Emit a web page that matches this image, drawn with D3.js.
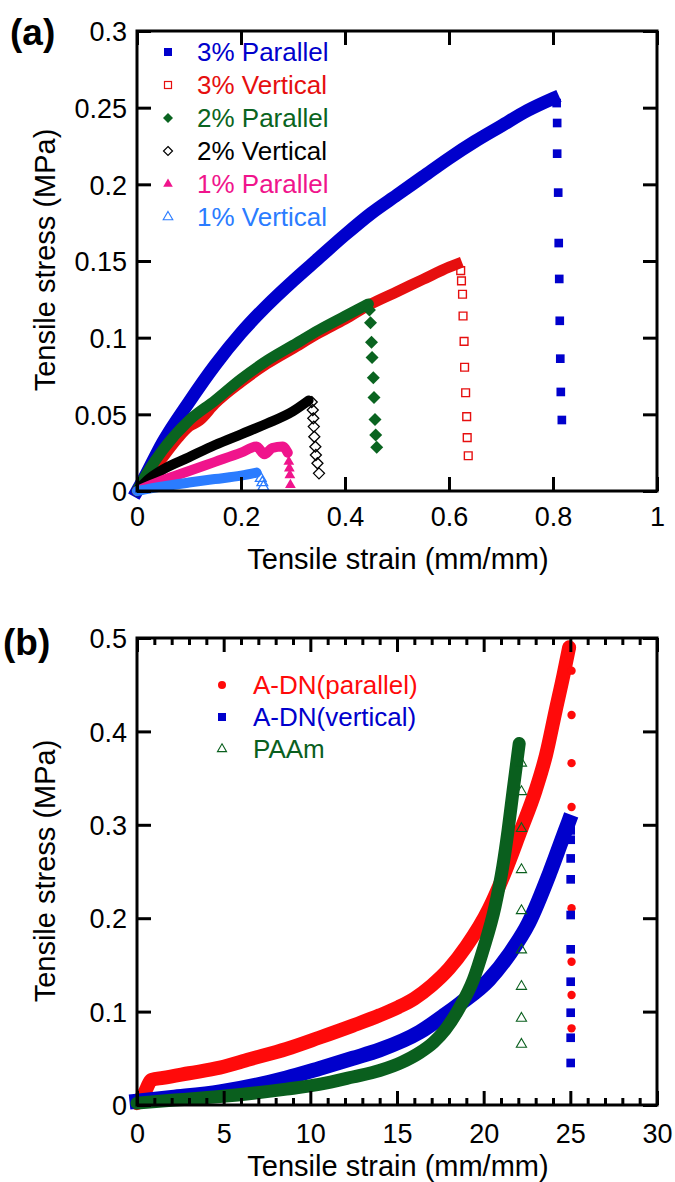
<!DOCTYPE html>
<html>
<head>
<meta charset="utf-8">
<script src="https://cdn.jsdelivr.net/npm/d3@7"></script>
<style>
  html, body { margin: 0; padding: 0; background: #fff; }
  svg { display: block; }
  text { font-family: "Liberation Sans", Arial, Helvetica, sans-serif; }
</style>
</head>
<body>
<svg id="chart" width="675" height="1182"></svg>
<script>
// ---------------- Panel (a) data ----------------
const aXTicks = [0, 0.2, 0.4, 0.6, 0.8, 1];
const aXTickLabels = ["0", "0.2", "0.4", "0.6", "0.8", "1"];
const aYTicks = [0, 0.05, 0.1, 0.15, 0.2, 0.25, 0.3];
const aYTickLabels = ["0", "0.05", "0.1", "0.15", "0.2", "0.25", "0.3"];

const aSeriesNames = ["3% Parallel", "3% Vertical", "2% Parallel", "2% Vertical", "1% Parallel", "1% Vertical"];

// 3% Parallel
const p3Strain = [0, 0.01, 0.05, 0.1, 0.15, 0.2, 0.25, 0.3, 0.35, 0.4, 0.45, 0.5, 0.55, 0.6, 0.65, 0.7, 0.75, 0.8];
const p3Stress = [0, 0.006, 0.032, 0.058, 0.082, 0.103, 0.121, 0.137, 0.152, 0.167, 0.181, 0.193, 0.205, 0.217, 0.228, 0.238, 0.248, 0.256];
const p3DropStrain = [0.807, 0.808, 0.808, 0.810, 0.811, 0.812, 0.813, 0.814, 0.815, 0.817];
const p3DropStress = [0.253, 0.240, 0.220, 0.1946, 0.1617, 0.1383, 0.111, 0.0863, 0.0646, 0.0463];

// 3% Vertical
const v3Strain = [0, 0.02, 0.05, 0.08, 0.1, 0.12, 0.15, 0.2, 0.25, 0.3, 0.35, 0.4, 0.45, 0.5, 0.55, 0.6, 0.615];
const v3Stress = [0, 0.009, 0.022, 0.035, 0.042, 0.046, 0.057, 0.071, 0.083, 0.093, 0.103, 0.112, 0.122, 0.130, 0.138, 0.146, 0.148];
const v3DropStrain = [0.6225, 0.624, 0.626, 0.627, 0.629, 0.630, 0.632, 0.634, 0.635, 0.637];
const v3DropStress = [0.1437, 0.137, 0.1283, 0.1141, 0.0976, 0.0807, 0.0641, 0.0485, 0.0348, 0.023];

// 2% Parallel
const p2Strain = [0, 0.02, 0.05, 0.1, 0.15, 0.2, 0.25, 0.3, 0.35, 0.4, 0.445];
const p2Stress = [0, 0.012, 0.027, 0.046, 0.059, 0.073, 0.085, 0.095, 0.105, 0.114, 0.122];
const p2DropStrain = [0.447, 0.449, 0.451, 0.452, 0.4545, 0.4558, 0.4577, 0.459, 0.461];
const p2DropStress = [0.118, 0.1098, 0.097, 0.087, 0.0739, 0.0609, 0.0467, 0.0365, 0.0285];

// 2% Vertical
const v2Strain = [0, 0.02, 0.05, 0.1, 0.15, 0.2, 0.25, 0.3, 0.33];
const v2Stress = [0, 0.007, 0.014, 0.022, 0.030, 0.037, 0.044, 0.052, 0.059];
const v2DropStrain = [0.336, 0.338, 0.339, 0.340, 0.341, 0.343, 0.344, 0.347, 0.350];
const v2DropStress = [0.058, 0.0528, 0.0474, 0.042, 0.0354, 0.0289, 0.0235, 0.0181, 0.0115];

// 1% Parallel
const p1Strain = [0, 0.05, 0.1, 0.15, 0.2, 0.23, 0.245, 0.26, 0.28, 0.29];
const p1Stress = [0, 0.007, 0.013, 0.019, 0.025, 0.029, 0.024, 0.028, 0.029, 0.025];
const p1DropStrain = [0.292, 0.293, 0.294, 0.295];
const p1DropStress = [0.0191, 0.0148, 0.0104, 0.0039];

// 1% Vertical
const v1Strain = [0, 0.05, 0.1, 0.15, 0.2, 0.23];
const v1Stress = [0, 0.003, 0.0055, 0.0078, 0.010, 0.012];
const v1DropStrain = [0.238, 0.241, 0.243];
const v1DropStress = [0.0083, 0.0055, 0.0028];

// ---------------- Panel (b) data ----------------
const bXTicks = [0, 5, 10, 15, 20, 25, 30];
const bXTickLabels = ["0", "5", "10", "15", "20", "25", "30"];
const bXMinorTicks = d3.range(0, 31).filter(v => v % 5 !== 0);
const bYTicks = [0, 0.1, 0.2, 0.3, 0.4, 0.5];
const bYTickLabels = ["0", "0.1", "0.2", "0.3", "0.4", "0.5"];
const bSeriesNames = ["A-DN(parallel)", "A-DN(vertical)", "PAAm"];

const adnParStrain = [0, 0.4, 0.85, 1.5, 3, 4.78, 6.5, 8.62, 10.5, 12.45, 14.0, 15.1, 16.0, 17.0, 18.0, 19.0, 20.3, 21.2, 22.1, 23.0, 23.6, 24.16, 24.6, 24.93];
const adnParStress = [0.002, 0.012, 0.027, 0.029, 0.034, 0.040, 0.049, 0.060, 0.072, 0.085, 0.096, 0.105, 0.114, 0.128, 0.146, 0.170, 0.210, 0.248, 0.292, 0.337, 0.375, 0.423, 0.460, 0.490];
const adnParDropStrain = [25.07, 25.07, 25.07, 25.07, 25.07, 25.07, 25.07, 25.07, 25.07];
const adnParDropStress = [0.489, 0.465, 0.4175, 0.366, 0.319, 0.2106, 0.1534, 0.1178, 0.0821];

const adnVerStrain = [0, 2, 4.78, 8.62, 10.5, 12.45, 14, 16.3, 17.8, 18.6, 20.3, 21.5, 22.6, 23.8, 24.5, 24.9];
const adnVerStress = [0.004, 0.008, 0.014, 0.029, 0.039, 0.050, 0.059, 0.078, 0.097, 0.108, 0.134, 0.162, 0.195, 0.248, 0.283, 0.303];
const adnVerDropStrain = [25.02, 25.02, 25.02, 25.02, 25.02, 25.02, 25.02, 25.02, 25.02, 25.02];
const adnVerDropStress = [0.294, 0.284, 0.264, 0.2416, 0.2034, 0.1667, 0.132, 0.0988, 0.072, 0.045];

const paamStrain = [0, 2, 4.78, 8.62, 10.5, 12.45, 14, 15.3, 16.3, 17.1, 17.8, 18.6, 19.4, 20.0, 20.65, 21.1, 21.4, 21.7, 22.05];
const paamStress = [0.002, 0.005, 0.009, 0.017, 0.022, 0.030, 0.037, 0.046, 0.056, 0.067, 0.081, 0.104, 0.134, 0.168, 0.212, 0.255, 0.293, 0.337, 0.387];
const paamDropStrain = [22.18, 22.18, 22.18, 22.18, 22.18, 22.18, 22.18, 22.18, 22.18];
const paamDropStress = [0.366, 0.3355, 0.296, 0.252, 0.208, 0.166, 0.127, 0.0928, 0.065];

// ---------------- Styles ----------------
const FONT = '"Liberation Sans", Arial, Helvetica, sans-serif';
const colA = { blue: "#0000cc", red: "#e60f0f", green: "#0a6420", black: "#000000", pink: "#f0148c", lblue: "#2b7cff" };
const colB = { red: "#ff0a0a", blue: "#0000cc", green: "#0a5f1e" };

const svg = d3.select("#chart");

function zipPts(xs, ys) { return xs.map((x, i) => [x, ys[i]]); }

function styleAxis(a, fontSize) {
  a.select(".domain").remove();
  a.selectAll(".tick line").attr("stroke", "#000").attr("stroke-width", 3).attr("stroke-linecap", "butt");
  a.selectAll(".tick text").attr("font-family", FONT).attr("font-size", fontSize).attr("fill", "#000");
}

function drawFrameAxes(g, x, y, opts) {
  const [x0, x1] = x.range();
  const [y0, y1] = y.range(); // y0 bottom, y1 top
  const axesG = g.append("g").attr("class", "axes");
  const gs = [];
  const M = 14, m = 7;
  const bottom = d3.axisBottom(x).tickValues(opts.xTicks).tickSizeInner(-M).tickSizeOuter(0)
    .tickPadding(opts.xPad).tickFormat((d, i) => opts.xLabels[i]);
  gs.push(axesG.append("g").attr("transform", `translate(0,${y0})`).call(bottom));
  const top = d3.axisTop(x).tickValues(opts.xTicks).tickSizeInner(-M).tickSizeOuter(0).tickFormat("");
  gs.push(axesG.append("g").attr("transform", `translate(0,${y1})`).call(top));
  const left = d3.axisLeft(y).tickValues(opts.yTicks).tickSizeInner(-M).tickSizeOuter(0)
    .tickPadding(opts.yPad).tickFormat((d, i) => opts.yLabels[i]);
  const gl = axesG.append("g").attr("transform", `translate(${x0},0)`).call(left);
  gs.push(gl);
  const right = d3.axisRight(y).tickValues(opts.yTicks).tickSizeInner(-M).tickSizeOuter(0).tickFormat("");
  gs.push(axesG.append("g").attr("transform", `translate(${x1},0)`).call(right));
  if (opts.xMinor) {
    const bm = d3.axisBottom(x).tickValues(opts.xMinor).tickSizeInner(-m).tickSizeOuter(0).tickFormat("");
    gs.push(axesG.append("g").attr("transform", `translate(0,${y0})`).call(bm));
    const tm = d3.axisTop(x).tickValues(opts.xMinor).tickSizeInner(-m).tickSizeOuter(0).tickFormat("");
    gs.push(axesG.append("g").attr("transform", `translate(0,${y1})`).call(tm));
  }
  gs.forEach(a => styleAxis(a, 27));
  gl.selectAll(".tick text").attr("dy", "0.36em");
  axesG.append("rect").attr("x", x0).attr("y", y1).attr("width", x1 - x0).attr("height", y0 - y1)
    .attr("fill", "none").attr("stroke", "#000").attr("stroke-width", 3);
}

function band(g, x, y, xs, ys, color, width, cap) {
  const line = d3.line().x(d => x(d[0])).y(d => y(d[1])).curve(d3.curveMonotoneX);
  g.append("path").attr("d", line(zipPts(xs, ys))).attr("fill", "none")
    .attr("stroke", color).attr("stroke-width", width)
    .attr("stroke-linejoin", "round").attr("stroke-linecap", cap || "round");
}

function markers(g, x, y, xs, ys, type, color, size, filled, sw) {
  const sym = d3.symbol().type(type).size(size);
  g.selectAll(null).data(zipPts(xs, ys)).join("path")
    .attr("transform", d => `translate(${x(d[0])},${y(d[1])})`)
    .attr("d", sym)
    .attr("fill", filled ? color : "none")
    .attr("stroke", color)
    .attr("stroke-width", filled ? 0 : (sw || 1.3));
}
function diamondPath(r) { return `M0,${-r}L${r},0L0,${r}L${-r},0Z`; }
function diamonds(g, x, y, xs, ys, color, r, filled) {
  g.selectAll(null).data(zipPts(xs, ys)).join("path")
    .attr("transform", d => `translate(${x(d[0])},${y(d[1])})`)
    .attr("d", diamondPath(r))
    .attr("fill", filled ? color : "none").attr("stroke", color).attr("stroke-width", filled ? 0 : 1.3);
}

// ================= Panel (a) =================
const xA = d3.scaleLinear().domain([0, 1]).range([137, 657]);
const yA = d3.scaleLinear().domain([0, 0.3]).range([491, 31]);
const gA = svg.append("g");

band(gA, xA, yA, v3Strain, v3Stress, colA.red, 11, "square");
band(gA, xA, yA, p3Strain, p3Stress, colA.blue, 13, "square");
band(gA, xA, yA, p2Strain, p2Stress, colA.green, 11, "round");
band(gA, xA, yA, v2Strain, v2Stress, colA.black, 10, "round");
band(gA, xA, yA, p1Strain, p1Stress, colA.pink, 10, "round");
band(gA, xA, yA, v1Strain, v1Stress, colA.lblue, 10, "round");

markers(gA, xA, yA, p3DropStrain, p3DropStress, d3.symbolSquare, colA.blue, 75, true);
markers(gA, xA, yA, v3DropStrain, v3DropStress, d3.symbolSquare, colA.red, 60, false, 1.4);
diamonds(gA, xA, yA, p2DropStrain, p2DropStress, colA.green, 6.5, true);
diamonds(gA, xA, yA, v2DropStrain, v2DropStress, colA.black, 5.5, false);
markers(gA, xA, yA, p1DropStrain, p1DropStress, d3.symbolTriangle, colA.pink, 50, true);
markers(gA, xA, yA, v1DropStrain, v1DropStress, d3.symbolTriangle, colA.lblue, 50, false, 1.3);

drawFrameAxes(gA, xA, yA, { xTicks: aXTicks, xLabels: aXTickLabels, yTicks: aYTicks, yLabels: aYTickLabels, xPad: 16, yPad: 10 });

// legend (a)
const legAColors = [colA.blue, colA.red, colA.green, colA.black, colA.pink, colA.lblue];
const legAY = d3.scalePoint().domain(aSeriesNames).range([52, 217]);
const legA = gA.append("g");
aSeriesNames.forEach((name, i) => {
  const cy = legAY(name), cx = 168, c = legAColors[i];
  if (i === 0) legA.append("rect").attr("x", cx - 4).attr("y", cy - 4).attr("width", 8).attr("height", 8).attr("fill", c);
  if (i === 1) legA.append("rect").attr("x", cx - 3.5).attr("y", cy - 3.5).attr("width", 7).attr("height", 7).attr("fill", "none").attr("stroke", c).attr("stroke-width", 1.2);
  if (i === 2) legA.append("path").attr("transform", `translate(${cx},${cy})`).attr("d", diamondPath(5)).attr("fill", c);
  if (i === 3) legA.append("path").attr("transform", `translate(${cx},${cy})`).attr("d", diamondPath(4.5)).attr("fill", "none").attr("stroke", c).attr("stroke-width", 1.2);
  if (i === 4) legA.append("path").attr("transform", `translate(${cx},${cy})`).attr("d", d3.symbol().type(d3.symbolTriangle).size(40)()).attr("fill", c);
  if (i === 5) legA.append("path").attr("transform", `translate(${cx},${cy})`).attr("d", d3.symbol().type(d3.symbolTriangle).size(40)()).attr("fill", "none").attr("stroke", c).attr("stroke-width", 1.1);
  legA.append("text").attr("x", 197).attr("y", cy).attr("dy", "0.36em")
    .attr("font-family", FONT).attr("font-size", 26).attr("fill", c).text(name);
});

gA.append("text").attr("x", 398).attr("y", 569).attr("text-anchor", "middle")
  .attr("font-family", FONT).attr("font-size", 29).text("Tensile strain (mm/mm)");
gA.append("text").attr("transform", "translate(55,260) rotate(-90)").attr("text-anchor", "middle")
  .attr("font-family", FONT).attr("font-size", 29).text("Tensile stress (MPa)");
gA.append("text").attr("x", 10).attr("y", 45).attr("font-family", FONT).attr("font-weight", "bold")
  .attr("font-size", 37).text("(a)");

// ================= Panel (b) =================
const xB = d3.scaleLinear().domain([0, 30]).range([137, 657]);
const yB = d3.scaleLinear().domain([0, 0.5]).range([1105, 638]);
const gB = svg.append("g");

band(gB, xB, yB, adnParStrain, adnParStress, colB.red, 14, "round");
band(gB, xB, yB, adnVerStrain, adnVerStress, colB.blue, 15, "square");
band(gB, xB, yB, paamStrain, paamStress, colB.green, 13, "round");

markers(gB, xB, yB, adnParDropStrain, adnParDropStress, d3.symbolCircle, colB.red, 55, true);
markers(gB, xB, yB, adnVerDropStrain, adnVerDropStress, d3.symbolSquare, colB.blue, 75, true);
markers(gB, xB, yB, paamDropStrain, paamDropStress, d3.symbolTriangle, colB.green, 45, false, 1.1);

drawFrameAxes(gB, xB, yB, { xTicks: bXTicks, xLabels: bXTickLabels, yTicks: bYTicks, yLabels: bYTickLabels, xPad: 19, yPad: 10, xMinor: bXMinorTicks });

// legend (b)
const legBColors = [colB.red, colB.blue, colB.green];
const legBY = d3.scalePoint().domain(bSeriesNames).range([685, 749]);
const legB = gB.append("g");
bSeriesNames.forEach((name, i) => {
  const cy = legBY(name), cx = 222, c = legBColors[i];
  if (i === 0) legB.append("circle").attr("cx", cx).attr("cy", cy).attr("r", 4).attr("fill", c);
  if (i === 1) legB.append("rect").attr("x", cx - 4).attr("y", cy - 4).attr("width", 8).attr("height", 8).attr("fill", c);
  if (i === 2) legB.append("path").attr("transform", `translate(${cx},${cy})`).attr("d", d3.symbol().type(d3.symbolTriangle).size(36)()).attr("fill", "none").attr("stroke", c).attr("stroke-width", 1.1);
  legB.append("text").attr("x", 253).attr("y", cy).attr("dy", "0.36em")
    .attr("font-family", FONT).attr("font-size", 26).attr("fill", c).text(name);
});

gB.append("text").attr("x", 398).attr("y", 1176).attr("text-anchor", "middle")
  .attr("font-family", FONT).attr("font-size", 29).text("Tensile strain (mm/mm)");
gB.append("text").attr("transform", "translate(55,871) rotate(-90)").attr("text-anchor", "middle")
  .attr("font-family", FONT).attr("font-size", 29).text("Tensile stress (MPa)");
gB.append("text").attr("x", 3).attr("y", 655).attr("font-family", FONT).attr("font-weight", "bold")
  .attr("font-size", 37).text("(b)");
</script>
</body>
</html>
